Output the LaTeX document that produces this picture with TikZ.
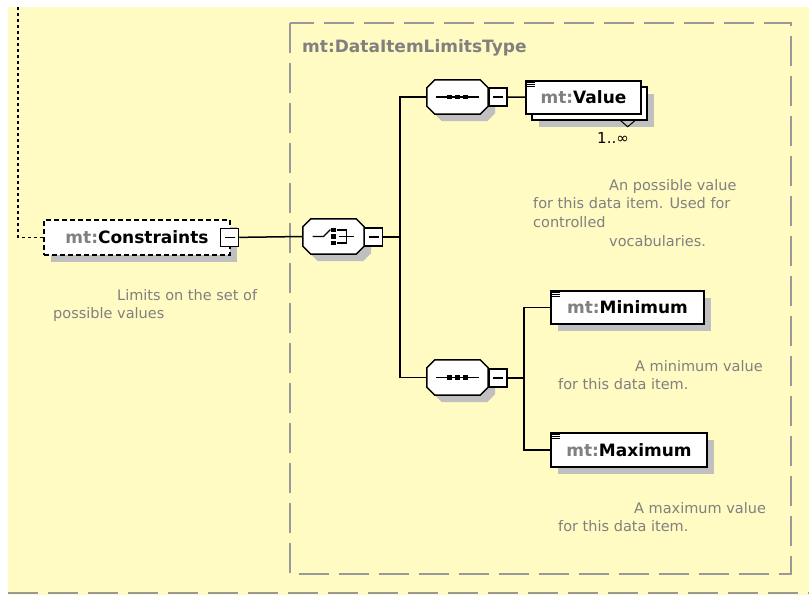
\documentclass[tikz,border=0pt]{standalone}
\usepackage{fontspec}
\setmainfont{DejaVu Sans}
\usepackage{tikz}
\usetikzlibrary{shapes,arrows}
\usetikzlibrary{positioning}
\usetikzlibrary{shadows}
\usetikzlibrary{calc}
\definecolor{bgyellow}{HTML}{FFFBC2}
\definecolor{framegray}{HTML}{999999}
\definecolor{shade}{HTML}{C0C0C0}
\definecolor{notegray}{HTML}{808080}
\tikzstyle{line} = [draw, line width=1.5pt]
\tikzstyle{frameline} = [draw=framegray, line width=1.5pt, dash pattern=on 30pt off 10pt]

\newcommand{\pfx}{\textcolor{notegray}{mt:}}
%% the three small lines at the top left of an element box
\newcommand{\docmark}[1]{%
	\foreach \dy in {2.5,4.5,6.5}
	\draw [line width=0.9pt] ($(#1.north west)+(2,\dy)$) -- ++(8,0);}
%% octagon round a compositor node
\newcommand{\octagon}[2][]{%
	\path [#1] ($(#2.north west)+(8,0)$) -- ($(#2.north east)+(-8,0)$)
	-- ($(#2.north east)+(0,8)$) -- ($(#2.south east)+(0,-8)$)
	-- ($(#2.south east)+(-8,0)$) -- ($(#2.south west)+(8,0)$)
	-- ($(#2.south west)+(0,-8)$) -- ($(#2.north west)+(0,8)$) -- cycle;}
\newcommand{\compbox}[1]{%
	\octagon[fill=shade, transform canvas={shift={(7,7)}}]{#1}
	\octagon[draw, fill=white, line width=1.5pt]{#1}}
%% sequence glyph
\newcommand{\seqmark}[1]{%
	\draw [line width=1.2pt] ($(#1)+(-22,0)$) -- ($(#1)+(21,0)$);
	\foreach \dx in {-8,0,8}
	\fill ($(#1)+(\dx,0)$) +(-2.2,-2.2) rectangle +(2.2,2.2);}
%% choice glyph
\newcommand{\choicemark}[1]{%
	\draw [line width=1.2pt] ($(#1)+(-21,0)$) -- ($(#1)+(-10,0)$) -- ($(#1)+(-3,-7)$);
	\foreach \dy in {-6.5,0,6.5}
	\fill ($(#1)+(0,\dy)$) +(-2.2,-2.2) rectangle +(2.2,2.2);
	\draw [line width=1.2pt] ($(#1)+(3,-6.5)$) -- ($(#1)+(13,-6.5)$)
	-- ($(#1)+(13,6.5)$) -- ($(#1)+(3,6.5)$);
	\draw [line width=1.2pt] ($(#1)+(5,0)$) -- ($(#1)+(20.5,0)$);}

\begin{document}
\begin{tikzpicture}[x=1pt, y=-1pt,
	box/.style={draw, fill=white, line width=1.5pt, inner sep=0pt,
		font=\bfseries\fontsize{17}{20}\selectfont},
	elem/.style={box, drop shadow={shadow xshift=7pt, shadow yshift=-7pt,
		fill=shade, opacity=1}},
	optelem/.style={elem, dash pattern=on 5pt off 3pt},
	multielem/.style={box,
		drop shadow={shadow xshift=13pt, shadow yshift=-13pt, fill=shade, opacity=1},
		copy shadow={shadow xshift=6pt, shadow yshift=-6pt, draw, fill=white,
		line width=1.5pt}},
	comp/.style={rectangle, minimum width=61pt, minimum height=35pt, inner sep=0pt},
	collapse/.style={draw, fill=white, line width=1.5pt, minimum width=18pt,
		minimum height=18pt, inner sep=0pt,
		path picture={\draw [line width=1.3pt]
		([xshift=4pt]path picture bounding box.west) --
		([xshift=-4pt]path picture bounding box.east);}},
	note/.style={text=notegray, font=\fontsize{14.5}{18.7}\selectfont,
		align=left, inner sep=0pt, anchor=north west}]
	\useasboundingbox (0,0) rectangle (809,595);
	\fill [bgyellow] (8,7) rectangle (809,595);
	\draw [frameline] (8,593) -- (809,593);
	%% the complex type frame
	\draw [frameline] (290,23) rectangle (791,574);
	\node [anchor=west, inner sep=0pt, text=notegray,
	font=\bfseries\fontsize{17}{20}\selectfont] (type) at (302,48)
	{mt:DataItemLimitsType};
	%% compositors
	\node [comp] (cho) at (333.5,236.5) {};
	\node [comp, minimum height=34pt] (seq_1) at (457.5,97) {};
	\node [comp] (seq_2) at (457.5,377.5) {};
	\compbox{cho}
	\compbox{seq_1}
	\compbox{seq_2}
	\choicemark{cho}
	\seqmark{seq_1}
	\seqmark{seq_2}
	%% elements
	\node [optelem, minimum width=186pt, minimum height=35pt] (con) at (137,237.5)
	{\pfx Constraints};
	\node [multielem, minimum width=115pt, minimum height=33pt] (val) at (583.5,97.5)
	{\pfx Value};
	\node [elem, minimum width=153pt, minimum height=33pt] (min) at (627.5,307.5)
	{\pfx Minimum};
	\node [elem, minimum width=156pt, minimum height=34pt] (max) at (629,450)
	{\pfx Maximum};
	\docmark{val}
	\docmark{min}
	\docmark{max}
	%% collapse buttons
	\node [collapse] (con_m) at (229.5,237.5) {};
	\node [collapse] (cho_m) at (373.5,237) {};
	\node [collapse] (seq_1m) at (498,97) {};
	\node [collapse] (seq_2m) at (498,378) {};
	%% occurrence of Value
	\draw [line width=1pt] ($(val.south east)+(-21,6)$) -- ++(7,6) -- ++(7,-6);
	\node [font=\fontsize{15}{18}\selectfont, inner sep=0pt] (val_occ) at (613,138)
	{1..∞};
	%% Lines
	\coordinate (top) at (18,7);
	\coordinate (split_1) at (400,237);
	\coordinate (split_2) at (524,378);
	\draw [line width=1.5pt, dash pattern=on 3pt off 3pt] (top) |- (con.west);
	\path [line] (con_m) -- (cho.west);
	\path [line] (cho_m) -- (split_1);
	\path [line] (split_1) |- (seq_1.west);
	\path [line] (split_1) |- (seq_2.west);
	\path [line] (seq_1m) -- (val);
	\path [line] (seq_2m) -- (split_2);
	\path [line] (split_2) |- (min.west);
	\path [line] (split_2) |- (max.west);
	%% annotations
	\node [note] (con_n) at (53,289)
	{\hspace*{64pt}Limits on the set of\\possible values};
	\node [note] (val_n) at (533,179)
	{\hspace*{76pt}An possible value\\for this data item. Used for\\controlled\\
		\hspace*{76pt}vocabularies.};
	\node [note] (min_n) at (558,360)
	{\hspace*{77pt}A minimum value\\for this data item.};
	\node [note] (max_n) at (558,502)
	{\hspace*{76pt}A maximum value\\for this data item.};
\end{tikzpicture}
\end{document}
